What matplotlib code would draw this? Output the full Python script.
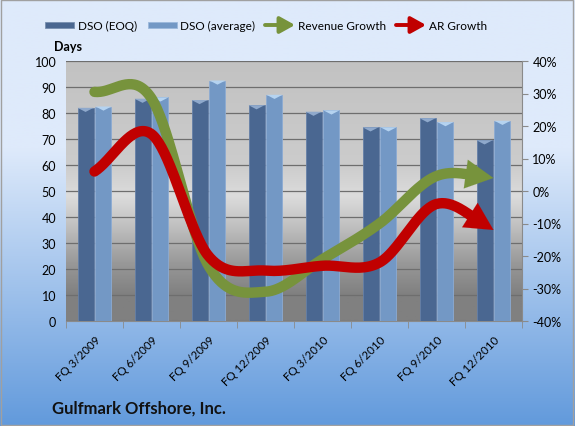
import numpy as np
import matplotlib
matplotlib.use("Agg")
import matplotlib.pyplot as plt
from matplotlib.patches import Rectangle, Polygon

plt.rcParams["font.family"] = ["Lato", "DejaVu Sans"]

categories = ["FQ 3/2009", "FQ 6/2009", "FQ 9/2009", "FQ 12/2009",
              "FQ 3/2010", "FQ 6/2010", "FQ 9/2010", "FQ 12/2010"]
dso_eoq = [82, 85.5, 85, 83, 80.5, 74.5, 78, 69.5]
dso_avg = [82.5, 86, 92.5, 87, 81, 74.5, 76.5, 77]
revenue_growth = [30.5, 28.5, -23, -31, -21, -10, 4.6, 4]
ar_growth = [6, 17.5, -20, -24.5, -23, -22, -4, -12]

W, H = 575, 427
fig = plt.figure(figsize=(W / 100, H / 100), dpi=100)

# figure background gradient
bg = fig.add_axes([0, 0, 1, 1], zorder=-10)
top_c = np.array([0xde, 0xea, 0xfb]) / 255
bot_c = np.array([0x62, 0x9a, 0xdc]) / 255
g = np.linspace(0, 1, 256)
g = np.clip((g - 0.35) / 0.65, 0, 1)
img = top_c[None, :] * (1 - g[:, None]) + bot_c[None, :] * g[:, None]
bg.imshow(img[:, None, :], aspect="auto", extent=[0, 1, 0, 1], origin="upper")
bg.add_patch(Rectangle((0.002, 0.003), 0.995, 0.994, fill=False, ec="#a0a0a0", lw=1))
bg.set_xlim(0, 1); bg.set_ylim(0, 1)
bg.axis("off")

ax = fig.add_axes([66 / W, (H - 322) / H, (522 - 66) / W, (322 - 62) / H])
n = len(categories)
x = np.arange(n)
ax.set_xlim(-0.5, n - 0.5)
ax.set_ylim(0, 100)

# plot area gradient
stops = [(0.0, 0xc2), (0.40, 0xcc), (0.52, 0xdc), (0.62, 0xc4), (0.78, 0x98), (0.9, 0x80), (1.0, 0x80)]
ys = np.linspace(0, 1, 256)
vals = np.interp(ys, [s[0] for s in stops], [s[1] for s in stops]) / 255
pimg = np.stack([vals, vals, vals], axis=1)
ax.imshow(pimg[:, None, :], aspect="auto", extent=[-0.5, n - 0.5, 0, 100],
          origin="upper", zorder=0)

bw = 0.28
gap = 0.035
xe = x - bw / 2 - gap / 2
xa = x + bw / 2 + gap / 2
ax.bar(xe, dso_eoq, width=bw, color="#4a6791", edgecolor="#6580a8",
       linewidth=0.6, zorder=3)
ax.bar(xa, dso_avg, width=bw, color="#7398c5", edgecolor="#8cabd3",
       linewidth=0.6, zorder=3)
# bevel highlight at the top of each bar
for xs_, vs_, col in [(xe, dso_eoq, "#8fa9cc"), (xa, dso_avg, "#b5d3f0")]:
    for xc, v in zip(xs_, vs_):
        ax.add_patch(Polygon([(xc - bw / 2, v), (xc + bw / 2, v), (xc, v - 1.6)],
                             closed=True, facecolor=col, edgecolor="none", zorder=4))

ax.set_yticks(np.arange(0, 101, 10))
ax.yaxis.grid(True, color="#6e6e6e", lw=0.9)
for gl in ax.get_ygridlines():
    gl.set_zorder(2)
ax.tick_params(axis="y", length=0, labelsize=9, pad=7)
ax.set_xticks(x)
ax.set_xticklabels(categories, rotation=45, ha="right", rotation_mode="anchor", fontsize=8.3)
ax.set_xticks(np.arange(-0.5, n, 1), minor=True)
ax.tick_params(axis="x", which="major", length=0, pad=9)
ax.tick_params(axis="x", which="minor", length=5, color="#8a8a8a")
for s in ["top", "right", "left"]:
    ax.spines[s].set_visible(False)
ax.spines["bottom"].set_color("#8a8a8a")

ax2 = ax.twinx()
ax2.set_ylim(-40, 40)
ax2.set_yticks(np.arange(-40, 41, 10))
ax2.set_yticklabels([f"{v}%" for v in range(-40, 41, 10)])
ax2.tick_params(axis="y", length=4, labelsize=9, color="#8a8a8a")
for s in ["top", "left", "bottom"]:
    ax2.spines[s].set_visible(False)
ax2.spines["right"].set_color("#8a8a8a")


def smooth(xs, ys, n_seg=40):
    xs = np.asarray(xs, float); ys = np.asarray(ys, float)
    P = np.stack([xs, ys], axis=1)
    P = np.vstack([P[0] - (P[1] - P[0]), P, P[-1] + (P[-1] - P[-2])])
    out = []
    for i in range(1, len(P) - 2):
        p0, p1, p2, p3 = P[i - 1], P[i], P[i + 1], P[i + 2]
        t = np.linspace(0, 1, n_seg, endpoint=False)[:, None]
        c1 = p1 + (p2 - p0) / 6
        c2 = p2 - (p3 - p1) / 6
        pts = ((1 - t) ** 3) * p1 + 3 * ((1 - t) ** 2) * t * c1 + 3 * (1 - t) * t ** 2 * c2 + t ** 3 * p2
        out.append(pts)
    out.append(P[-2][None, :])
    return np.vstack(out)


def arrow_line(axis, xs, ys, color):
    pts = smooth(xs, ys)
    disp = axis.transData.transform(pts)
    d = np.cumsum(np.r_[0, np.hypot(*np.diff(disp, axis=0).T)])
    cut = d[-1] - 22
    k = np.searchsorted(d, cut)
    axis.plot(pts[:k + 1, 0], pts[:k + 1, 1], color=color, lw=7.5,
              solid_capstyle="round", zorder=5)
    axis.annotate("", xy=pts[-1], xytext=pts[k - 3],
                  arrowprops=dict(arrowstyle="-|>,head_length=1.0,head_width=0.52",
                                  color=color, lw=0.1, mutation_scale=20,
                                  shrinkA=0, shrinkB=0), zorder=6)


ax2.set_zorder(ax.get_zorder() + 1)
ax2.patch.set_visible(False)
arrow_line(ax2, x, revenue_growth, "#77933c")
arrow_line(ax2, x, ar_growth, "#c00000")

fig.text(54 / W, 1 - 47 / H, "Days", fontsize=9, fontweight="bold", ha="left", va="center")
fig.text(52 / W, 1 - 409 / H, "Gulfmark Offshore, Inc.", fontsize=12, fontweight="bold",
         ha="left", va="center", color="#111111")

# legend
ly = 1 - 26 / H
fig.patches.append(Rectangle((45 / W, ly - 3 / H), 29 / W, 6 / H, transform=fig.transFigure,
                             facecolor="#4a6791", edgecolor="#7890b0", lw=0.6))
fig.text(78 / W, ly, "DSO (EOQ)", fontsize=8.5, va="center")
fig.patches.append(Rectangle((148 / W, ly - 3 / H), 29 / W, 6 / H, transform=fig.transFigure,
                             facecolor="#7398c5", edgecolor="#9cb8dc", lw=0.6))
fig.text(180 / W, ly, "DSO (average)", fontsize=8.5, va="center")
for x0, col, lab in [(265, "#77933c", "Revenue Growth"), (396, "#c00000", "AR Growth")]:
    bg.annotate("", xy=(x0 + 30, 427 - 26), xytext=(x0, 427 - 26), xycoords="figure pixels",
                textcoords="figure pixels",
                arrowprops=dict(arrowstyle="-|>,head_length=0.45,head_width=0.25", color=col,
                                lw=2.8, mutation_scale=20, shrinkA=0, shrinkB=0))
    fig.text((x0 + 33) / W, ly, lab, fontsize=8.5, va="center")

fig.savefig("out.png", dpi=100)
